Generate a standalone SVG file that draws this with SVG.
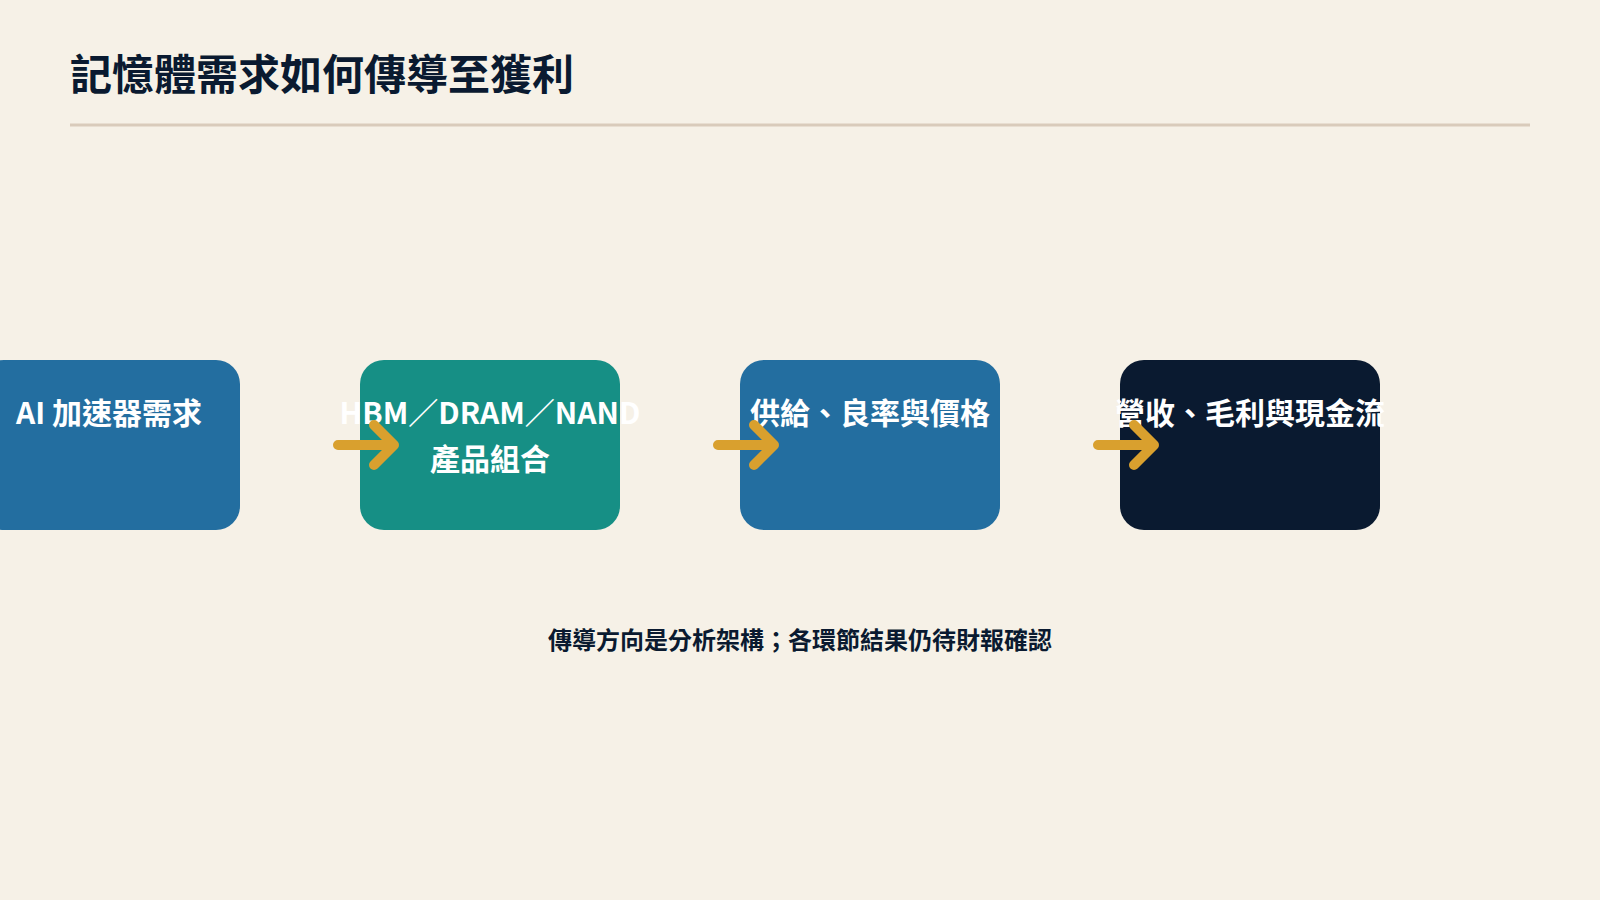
<svg xmlns="http://www.w3.org/2000/svg" width="1600" height="900" viewBox="0 0 1600 900">
<style>
text{font-family:"Noto Sans CJK TC","Noto Sans",sans-serif;font-weight:700}
.n{fill:#fff;font-size:30px;text-anchor:middle}
.a{fill:none;stroke:#d9a02e;stroke-width:10;stroke-linecap:round;stroke-linejoin:round}
</style>
<rect width="1600" height="900" fill="#f6f1e7"/>
<text x="70" y="90" font-size="42" fill="#0a1a30">記憶體需求如何傳導至獲利</text>
<line x1="70" y1="125" x2="1530" y2="125" stroke="#d9cbbb" stroke-width="3"/>
<g id="n1"><rect x="-20" y="360" width="260" height="170" rx="24" fill="#236ea0"/><text class="n" x="109" y="424">AI 加速器需求</text></g>
<g id="n2"><rect x="360" y="360" width="260" height="170" rx="24" fill="#168f85"/><text class="n" x="490" y="424">HBM／DRAM／NAND</text><text class="n" x="490" y="470">產品組合</text></g>
<g id="n3"><rect x="740" y="360" width="260" height="170" rx="24" fill="#236ea0"/><text class="n" x="870" y="424">供給、良率與價格</text></g>
<g id="n4"><rect x="1120" y="360" width="260" height="170" rx="24" fill="#0a1a30"/><text class="n" x="1250" y="424">營收、毛利與現金流</text></g>
<g id="connectors">
<path class="a" d="M338 445H394M374 425L394 445L374 465"/>
<path class="a" d="M718 445H774M754 425L774 445L754 465"/>
<path class="a" d="M1098 445H1154M1134 425L1154 445L1134 465"/>
</g>
<text x="800" y="649" font-size="24" fill="#0a1a30" text-anchor="middle">傳導方向是分析架構；各環節結果仍待財報確認</text>
</svg>
